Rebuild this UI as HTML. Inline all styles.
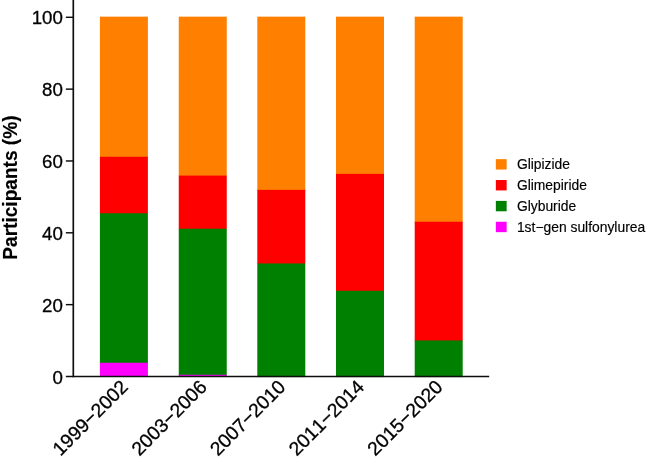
<!DOCTYPE html>
<html><head><meta charset="utf-8"><title>Sulfonylurea use</title>
<style>
html,body{margin:0;padding:0;background:#fff;}
body{width:646px;height:463px;overflow:hidden;}
svg{display:block;font-family:"Liberation Sans",Arial,Helvetica,sans-serif;}
text{stroke:#000;stroke-width:0.3px;font-kerning:none;}
.lg text{stroke-width:0.15px;}
</style></head><body>
<svg width="646" height="463" viewBox="0 0 646 463">
<rect width="646" height="463" fill="#fff"/>
<rect x="99.90" y="16.65" width="48.00" height="140.82" fill="#ff8000"/>
<rect x="99.90" y="156.77" width="48.00" height="57.18" fill="#ff0000"/>
<rect x="99.90" y="213.25" width="48.00" height="150.18" fill="#008000"/>
<rect x="99.90" y="362.73" width="48.00" height="13.67" fill="#ff00ff"/>
<rect x="178.75" y="16.65" width="48.00" height="159.64" fill="#ff8000"/>
<rect x="178.75" y="175.59" width="48.00" height="53.80" fill="#ff0000"/>
<rect x="178.75" y="228.69" width="48.00" height="146.79" fill="#008000"/>
<rect x="178.75" y="374.78" width="48.00" height="1.62" fill="#ff00ff"/>
<rect x="257.30" y="16.65" width="48.00" height="173.92" fill="#ff8000"/>
<rect x="257.30" y="189.87" width="48.00" height="74.27" fill="#ff0000"/>
<rect x="257.30" y="263.44" width="48.00" height="113.66" fill="#008000"/>
<rect x="336.00" y="16.65" width="48.00" height="157.91" fill="#ff8000"/>
<rect x="336.00" y="173.86" width="48.00" height="117.62" fill="#ff0000"/>
<rect x="336.00" y="290.78" width="48.00" height="86.32" fill="#008000"/>
<rect x="414.70" y="16.65" width="48.00" height="205.76" fill="#ff8000"/>
<rect x="414.70" y="221.71" width="48.00" height="119.42" fill="#ff0000"/>
<rect x="414.70" y="340.42" width="48.00" height="36.68" fill="#008000"/>
<g stroke="#0d0d0d" stroke-width="1.6" fill="none">
<path d="M73.3 0V377.27" stroke-width="1.68"/>
<path d="M65.85 376.47H489.2"/>
<path d="M65.85 304.64H73.3" stroke-width="1.45"/>
<path d="M65.85 232.80H73.3" stroke-width="1.45"/>
<path d="M65.85 160.97H73.3" stroke-width="1.45"/>
<path d="M65.85 89.13H73.3" stroke-width="1.45"/>
<path d="M65.85 17.30H73.3" stroke-width="1.45"/>
</g>
<g font-size="19.2" text-anchor="end" fill="#000">
<text transform="translate(62.85 383.97) scale(0.975 1)">0</text>
<text transform="translate(62.85 311.74) scale(0.975 1)">20</text>
<text transform="translate(62.85 239.90) scale(0.975 1)">40</text>
<text transform="translate(62.85 168.02) scale(0.975 1)">60</text>
<text transform="translate(62.85 95.88) scale(0.975 1)">80</text>
<text transform="translate(62.85 23.90) scale(0.975 1)">100</text>
</g>
<text transform="translate(17.15 259.7) rotate(-90) scale(1 1.03)" font-size="19.1" font-weight="bold" style="stroke-width:0.15px">Participants (%)</text>
<g font-size="19.3" text-anchor="end" fill="#000">
<text transform="translate(129.15 388.1) rotate(-45)">1999−2002</text>
<text transform="translate(208.00 388.1) rotate(-45)">2003−2006</text>
<text transform="translate(286.55 388.1) rotate(-45)">2007−2010</text>
<text transform="translate(365.25 388.1) rotate(-45)">2011−2014</text>
<text transform="translate(443.95 388.1) rotate(-45)">2015−2020</text>
</g>
<g class="lg" font-size="13.87">
<rect x="495.85" y="159.15" width="10.8" height="10.4" fill="#ff8000"/>
<text x="516.9" y="169.40">Glipizide</text>
<rect x="495.85" y="180.02" width="10.8" height="10.4" fill="#ff0000"/>
<text x="516.9" y="190.27">Glimepiride</text>
<rect x="495.85" y="200.89" width="10.8" height="10.4" fill="#008000"/>
<text x="516.9" y="211.14">Glyburide</text>
<rect x="495.85" y="221.76" width="10.8" height="10.4" fill="#ff00ff"/>
<text x="516.9" y="232.01">1st−gen sulfonylurea</text>
</g>
</svg>
</body></html>
